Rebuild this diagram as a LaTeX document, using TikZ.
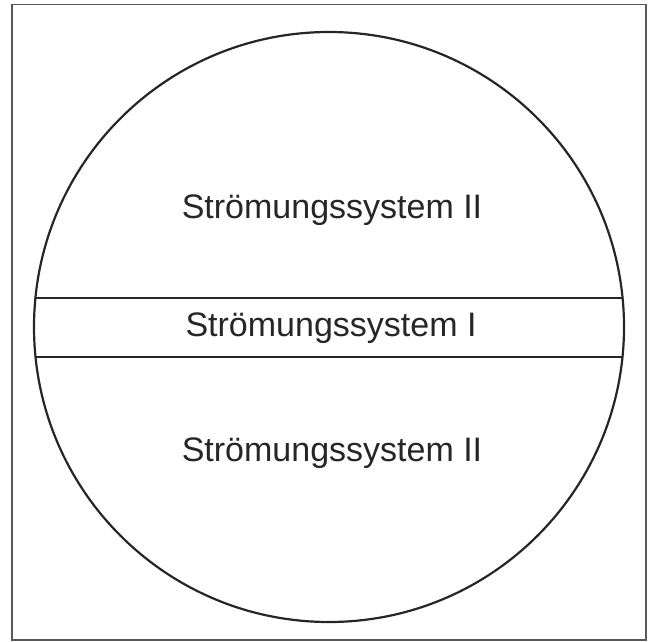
\documentclass[tikz,border=0pt]{standalone}
\usepackage{fontspec}
\setmainfont{Liberation Sans}
\begin{document}
\begin{tikzpicture}[x=1pt,y=-1pt,
  frame/.style={draw=black!65,line width=1.6pt},
  outline/.style={draw=black!85,line width=2.2pt},
  chord/.style={draw=black!85,line width=1.8pt},
  label/.style={font=\fontsize{34}{40}\selectfont,text=black!85,inner sep=0pt}]
\useasboundingbox (0,0) rectangle (648,641);
\draw[frame] (12,4.5) rectangle (646,640);
\node[circle,outline,minimum size=590pt,inner sep=0pt] (c) at (329,327) {};
\path (c.center) ++(-293.6,-29) coordinate (a1) ++(587.2,0) coordinate (b1);
\path (c.center) ++(-293.5,30) coordinate (a2) ++(587.0,0) coordinate (b2);
\draw[chord] (a1) -- (b1);
\draw[chord] (a2) -- (b2);
\node[label] (t1) at (332,210) {Strömungssystem II};
\node[label] (t2) at (331,328) {Strömungssystem I};
\node[label] (t3) at (332,453) {Strömungssystem II};
\end{tikzpicture}
\end{document}
